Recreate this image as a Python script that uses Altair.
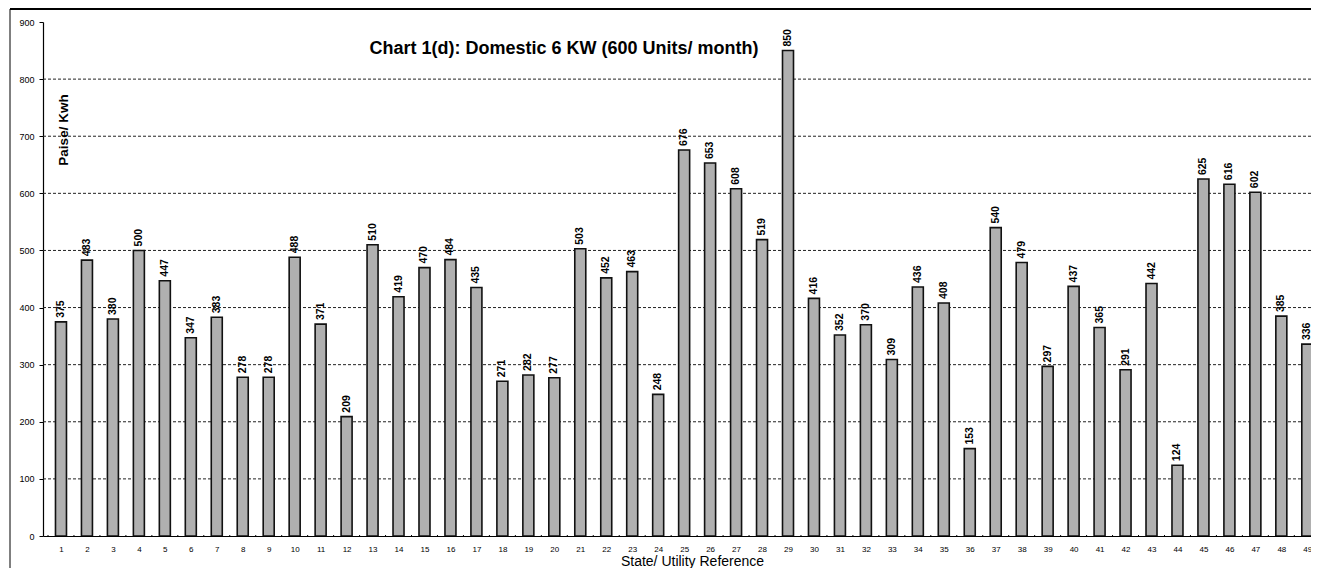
import altair as alt
import pandas as pd

# ---- data ----
refs = list(range(1, 50))
values = [375, 483, 380, 500, 447, 347, 383, 278, 278, 488,
          371, 209, 510, 419, 470, 484, 435, 271, 282, 277,
          503, 452, 463, 248, 676, 653, 608, 519, 850, 416,
          352, 370, 309, 436, 408, 153, 540, 479, 297, 437,
          365, 291, 442, 124, 625, 616, 602, 385, 336]
grid_levels = [100, 200, 300, 400, 500, 600, 700, 800]
y_ticks = [0, 100, 200, 300, 400, 500, 600, 700, 800, 900]
x_tick_positions = [r - 0.5 for r in refs]

title_text = "Chart 1(d): Domestic 6 KW (600 Units/ month)"
y_title_text = "Paise/ Kwh"
x_title_text = "State/ Utility  Reference"

FONT = "Liberation Sans"
W, H = 1268, 514

df = pd.DataFrame({"ref": refs, "value": values})
xscale = alt.Scale(domain=[0.5, 48.95], nice=False, zero=False)
yscale = alt.Scale(domain=[0, 900], nice=False)

x_axis = alt.Axis(values=refs, format="d", title=x_title_text, ticks=False,
                  labelFontSize=8, labelPadding=9, labelColor="black",
                  domainColor="black", domainWidth=1.2, grid=False,
                  labelOverlap=False, labelFlush=False,
                  titleFontSize=14, titleFontWeight="normal", titleColor="black",
                  titleX=649, titleY=29, titleBaseline="alphabetic")
y_axis = alt.Axis(values=y_ticks, title=None, grid=False, tickSize=4,
                  labelFontSize=9, labelColor="black", labelPadding=5,
                  domainColor="black", domainWidth=1.2, tickColor="black")

grid = alt.Chart(pd.DataFrame({"value": grid_levels})).mark_rule(
    color="#222", strokeDash=[3, 2], strokeWidth=1
).encode(y=alt.Y("value:Q", scale=yscale, axis=y_axis))

bars = alt.Chart(df).mark_bar(
    size=11, color="#b0b0b0", stroke="#111", strokeWidth=1.6, clip=True
).encode(
    x=alt.X("ref:Q", scale=xscale, axis=x_axis),
    y=alt.Y("value:Q", scale=yscale, axis=y_axis),
)

labels = alt.Chart(df).mark_text(
    angle=270, align="left", baseline="middle", dx=4, fontSize=10.5,
    fontWeight="bold", font=FONT, color="black", clip=True
).encode(
    x=alt.X("ref:Q", scale=xscale, axis=x_axis),
    y=alt.Y("value:Q", scale=yscale, axis=y_axis),
    text="value:Q",
)

xticks = alt.Chart(pd.DataFrame({"ref": x_tick_positions})).mark_rule(
    color="black", strokeWidth=1, clip=True
).encode(x=alt.X("ref:Q", scale=xscale, axis=x_axis), y=alt.value(H - 1), y2=alt.value(H + 3))

title = alt.Chart(pd.DataFrame({"t": [title_text]})).mark_text(
    fontSize=18, fontWeight="bold", font=FONT, color="black", align="center", baseline="middle"
).encode(text="t:N", x=alt.value(521), y=alt.value(27))

ytitle = alt.Chart(pd.DataFrame({"t": [y_title_text]})).mark_text(
    fontSize=13.5, fontWeight="bold", font=FONT, color="black", angle=270,
    align="center", baseline="middle"
).encode(text="t:N", x=alt.value(21), y=alt.value(108))

frame_top = alt.Chart(pd.DataFrame({"a": [0]})).mark_rule(color="black", strokeWidth=2).encode(
    x=alt.value(-33), x2=alt.value(W), y=alt.value(-13))
frame_left = alt.Chart(pd.DataFrame({"a": [0]})).mark_rule(color="black", strokeWidth=1).encode(
    x=alt.value(-33), y=alt.value(-13), y2=alt.value(H + 46))

chart = alt.layer(grid, bars, labels, xticks, title, ytitle, frame_top, frame_left).properties(
    width=W, height=H,
    autosize=alt.AutoSizeParams(type="none"),
    padding={"left": 35, "top": 14, "right": 0, "bottom": 32},
).configure_view(stroke=None).configure_axis(labelFont=FONT, titleFont=FONT)

chart.save("out.html", embed_options={"renderer": "svg", "actions": False})
